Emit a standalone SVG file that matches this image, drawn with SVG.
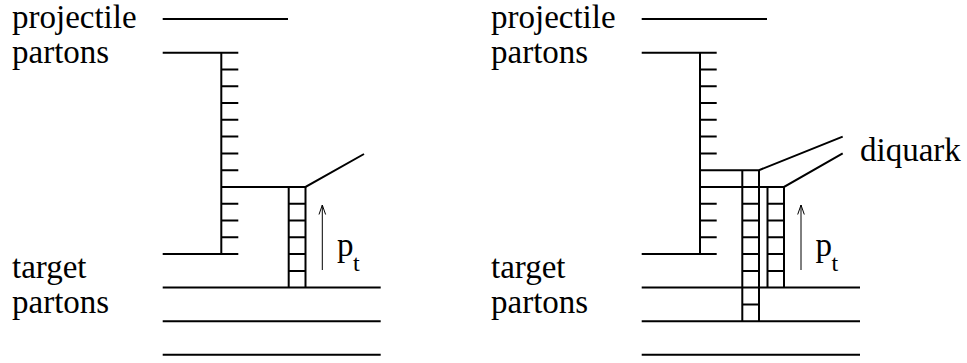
<svg xmlns="http://www.w3.org/2000/svg" width="967" height="363" viewBox="0 0 967 363">
<rect width="967" height="363" fill="#fff"/>
<g id="labels-left">
<text x="12" y="28" font-size="33px" font-family="'Times New Roman', 'Liberation Serif', Tinos, serif">projectile</text>
<text x="12" y="63" font-size="33px" font-family="'Times New Roman', 'Liberation Serif', Tinos, serif">partons</text>
<text x="12" y="278" font-size="33px" font-family="'Times New Roman', 'Liberation Serif', Tinos, serif">target</text>
<text x="12" y="313" font-size="33px" font-family="'Times New Roman', 'Liberation Serif', Tinos, serif">partons</text>
<text x="337" y="256" font-size="33px" font-family="'Times New Roman', 'Liberation Serif', Tinos, serif">p</text>
<text x="353" y="271" font-size="24px" font-family="'Times New Roman', 'Liberation Serif', Tinos, serif">t</text>
</g>
<g id="labels-right">
<text x="491" y="28" font-size="33px" font-family="'Times New Roman', 'Liberation Serif', Tinos, serif">projectile</text>
<text x="491" y="63" font-size="33px" font-family="'Times New Roman', 'Liberation Serif', Tinos, serif">partons</text>
<text x="491" y="278" font-size="33px" font-family="'Times New Roman', 'Liberation Serif', Tinos, serif">target</text>
<text x="491" y="313" font-size="33px" font-family="'Times New Roman', 'Liberation Serif', Tinos, serif">partons</text>
<text x="860" y="161" font-size="33px" font-family="'Times New Roman', 'Liberation Serif', Tinos, serif">diquark</text>
<text x="815.5" y="256" font-size="33px" font-family="'Times New Roman', 'Liberation Serif', Tinos, serif">p</text>
<text x="831.5" y="271" font-size="24px" font-family="'Times New Roman', 'Liberation Serif', Tinos, serif">t</text>
</g>
<g id="diagram-left" stroke="#000" stroke-width="2" fill="none">
<path d="M162.7 19H288"/>
<path d="M162.7 52.7H238.3M221.3 52.7V254.1M162.7 254.1H238.3"/>
<path d="M221.3 69.5H238.3M221.3 86.3H238.3M221.3 103H238.3M221.3 119.8H238.3M221.3 136.6H238.3M221.3 153.4H238.3M221.3 170.2H238.3M221.3 203.7H238.3M221.3 220.5H238.3M221.3 237.3H238.3"/>
<path d="M221.3 186.9H305.5L364 154"/>
<path d="M288.7 186.9V287.6M305.5 186.9V287.6M288.7 203.7H305.5M288.7 220.5H305.5M288.7 237.3H305.5M288.7 254.1H305.5M288.7 270.9H305.5"/>
<path d="M162.7 287.6H380.7M162.7 321.2H380.7M162.7 354.7H380.7"/>
</g>
<g id="arrow-left" stroke="#000" stroke-width="1" fill="none">
<path d="M322.3 270V205M319 214.5L322.3 205L325.6 214.5"/>
</g>
<g id="diagram-right" stroke="#000" stroke-width="2" fill="none">
<path d="M641.7 19H767"/>
<path d="M641.7 52.7H716.7M700 52.7V254.1M641.7 254.1H716.7"/>
<path d="M700 69.5H716.7M700 86.3H716.7M700 103H716.7M700 119.8H716.7M700 136.6H716.7M700 153.4H716.7M700 203.7H716.7M700 220.5H716.7M700 237.3H716.7"/>
<path d="M700 170.2H759L842.7 136.6"/>
<path d="M700 186.9H784L842.7 153.4"/>
<path d="M742.3 170.2V321.2M759 170.2V321.2M742.3 203.7H759M742.3 220.5H759M742.3 237.3H759M742.3 254.1H759M742.3 270.9H759M742.3 304.4H759"/>
<path d="M767.5 186.9V287.6M784 186.9V287.6M767.5 203.7H784M767.5 220.5H784M767.5 237.3H784M767.5 254.1H784M767.5 270.9H784"/>
<path d="M641.7 287.6H860M641.7 321.2H860M641.7 354.7H860"/>
</g>
<g id="arrow-right" stroke="#000" stroke-width="1" fill="none">
<path d="M801 270V205M797.7 214.5L801 205L804.3 214.5"/>
</g>
</svg>
